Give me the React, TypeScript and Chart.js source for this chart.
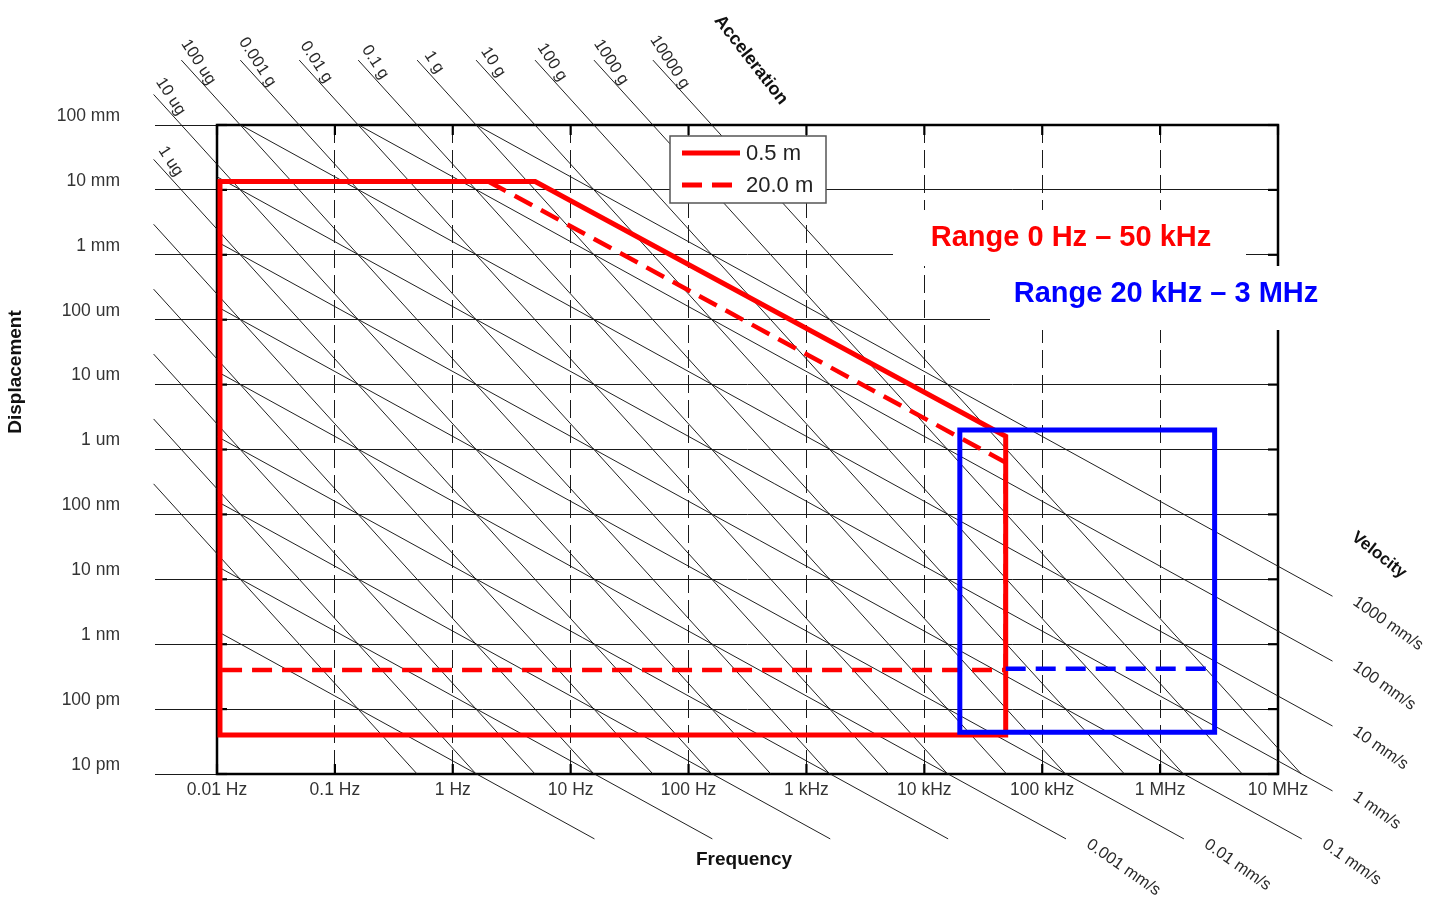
import React, { useEffect, useRef } from 'react';
import { Chart, registerables } from 'chart.js';

Chart.register(...registerables);

// ---- Axis ticks ----
const xTickValues = [1e-2, 1e-1, 1, 10, 100, 1e3, 1e4, 1e5, 1e6, 1e7];
const xTickLabels = ['0.01 Hz', '0.1 Hz', '1 Hz', '10 Hz', '100 Hz', '1 kHz', '10 kHz', '100 kHz', '1 MHz', '10 MHz'];
const yTickValues = [1e-11, 1e-10, 1e-9, 1e-8, 1e-7, 1e-6, 1e-5, 1e-4, 1e-3, 1e-2, 1e-1];
const yTickLabels = ['10 pm', '100 pm', '1 nm', '10 nm', '100 nm', '1 um', '10 um', '100 um', '1 mm', '10 mm', '100 mm'];

// ---- Constant-acceleration lines (in g) ----
const accelValuesG = [1e-11, 1e-10, 1e-9, 1e-8, 1e-7, 1e-6, 1e-5, 1e-4, 1e-3, 1e-2, 1e-1, 1, 10, 100, 1000, 10000];
const accelLabels = ['', '', '', '', '', '1 ug', '10 ug', '100 ug', '0.001 g', '0.01 g', '0.1 g', '1 g', '10 g', '100 g', '1000 g', '10000 g'];

// ---- Constant-velocity lines (in mm/s) ----
const velocityValuesMms = [1e-7, 1e-6, 1e-5, 1e-4, 1e-3, 1e-2, 0.1, 1, 10, 100, 1000];
const velocityLabels = ['', '', '', '', '0.001 mm/s', '0.01 mm/s', '0.1 mm/s', '1 mm/s', '10 mm/s', '100 mm/s', '1000 mm/s'];

// ---- Measurement envelopes: frequency (Hz) / displacement (m) ----
const range05mFreq = [0.0106, 0.0106, 5, 4.9e4, 4.9e4, 0.0106];
const range05mDisp = [4e-11, 0.0135, 0.0135, 1.6e-6, 4e-11, 4e-11];
const range20mFreq = [2, 4.9e4, 4.9e4, 0.0106];
const range20mDisp = [0.0135, 6.3e-7, 4e-10, 4e-10];
const hfSolidFreq = [2e4, 2e4, 2.9e6, 2.9e6, 2e4];
const hfSolidDisp = [4.4e-11, 2e-6, 2e-6, 4.4e-11, 4.4e-11];
const hfDashedFreq = [4.9e4, 2.9e6];
const hfDashedDisp = [4.2e-10, 4.2e-10];

// extents of the nomograph families (data space)
const ACCEL_F_MIN = 2.9e-3;
const ACCEL_D_MAX = 1;
const VEL_F_MAX = 2.9e7;
const VEL_D_MIN = 1e-12;
const G = 9.81;

const FONT = "'Liberation Sans', Arial, Helvetica, sans-serif";

const zip = (xs: number[], ys: number[]) => xs.map((x, i) => ({ x, y: ys[i] }));

export default function App() {
  const ref = useRef<HTMLCanvasElement | null>(null);

  useEffect(() => {
    const canvas = ref.current;
    if (!canvas) return;
    const TWO_PI = 2 * Math.PI;
    const fMinBox = xTickValues[0];
    const dMaxBox = yTickValues[yTickValues.length - 1];
    const dMinBox = yTickValues[0];

    const accelLine = (g: number) => {
      const a = g * G;
      const f0 = Math.max(ACCEL_F_MIN, Math.sqrt(a / ACCEL_D_MAX) / TWO_PI);
      const f1 = Math.sqrt(a / dMinBox) / TWO_PI;
      return [
        { x: f0, y: a / (TWO_PI * f0) ** 2 },
        { x: f1, y: a / (TWO_PI * f1) ** 2 },
      ];
    };
    const velLine = (mms: number) => {
      const v = mms / 1000;
      const f0 = Math.max(fMinBox, v / (TWO_PI * dMaxBox));
      const f1 = Math.min(VEL_F_MAX, v / (TWO_PI * VEL_D_MIN));
      return [
        { x: f0, y: v / (TWO_PI * f0) },
        { x: f1, y: v / (TWO_PI * f1) },
      ];
    };

    const diagStyle = {
      type: 'line' as const,
      borderColor: '#141414',
      borderWidth: 0.95,
      pointRadius: 0,
      clip: false as any,
      order: 10,
      fill: false,
    };

    const datasets: any[] = [];
    accelValuesG.forEach((g, i) => {
      datasets.push({ ...diagStyle, label: '', data: accelLine(g), kind: 'accel', lineLabel: accelLabels[i] });
    });
    velocityValuesMms.forEach((v, i) => {
      datasets.push({ ...diagStyle, label: '', data: velLine(v), kind: 'vel', lineLabel: velocityLabels[i] });
    });
    datasets.push({
      type: 'line', label: '0.5 m', data: zip(range05mFreq, range05mDisp), borderColor: '#ff0000',
      borderWidth: 5, pointRadius: 0, clip: false, order: 3, borderCapStyle: 'square', borderJoinStyle: 'miter',
      inLegend: true, fill: false,
    });
    datasets.push({
      type: 'line', label: '20.0 m', data: zip(range20mFreq, range20mDisp), borderColor: '#ff0000',
      borderWidth: 4.5, borderDash: [20, 10], pointRadius: 0, clip: false, order: 2, borderJoinStyle: 'miter',
      inLegend: true, fill: false,
    });
    datasets.push({
      type: 'line', label: '', data: zip(hfDashedFreq, hfDashedDisp), borderColor: '#0000ff',
      borderWidth: 4.5, borderDash: [20, 10], pointRadius: 0, clip: false, order: 1, fill: false,
    });
    datasets.push({
      type: 'line', label: '', data: zip(hfSolidFreq, hfSolidDisp), borderColor: '#0000ff',
      borderWidth: 5, pointRadius: 0, clip: false, order: 0, borderCapStyle: 'square', borderJoinStyle: 'miter',
      fill: false,
    });

    const framePlugin = {
      id: 'frame',
      beforeDatasetsDraw(chart: any) {
        const { ctx, chartArea: a, scales } = chart;
        ctx.save();
        ctx.strokeStyle = '#000';
        ctx.lineWidth = 2.2;
        const seg = (x1: number, y1: number, x2: number, y2: number) => {
          ctx.beginPath(); ctx.moveTo(x1, y1); ctx.lineTo(x2, y2); ctx.stroke();
        };
        xTickValues.forEach((v) => {
          const px = scales.x.getPixelForValue(v);
          seg(px, a.top, px, a.top + 10);
          seg(px, a.bottom, px, a.bottom - 10);
        });
        yTickValues.forEach((v) => {
          const py = scales.y.getPixelForValue(v);
          seg(a.left, py, a.left + 10, py);
          seg(a.right, py, a.right - 10, py);
        });
        ctx.lineWidth = 2.5;
        ctx.strokeRect(a.left, a.top, a.right - a.left, a.bottom - a.top);
        ctx.restore();
      },
      afterDatasetsDraw(chart: any) {
        const { ctx, chartArea: a } = chart;
        ctx.save();
        // diagonal labels
        ctx.fillStyle = '#2a2a2a';
        ctx.font = `16.5px ${FONT}`;
        chart.data.datasets.forEach((ds: any, i: number) => {
          if (!ds.lineLabel) return;
          const meta = chart.getDatasetMeta(i);
          if (ds.kind === 'accel') {
            const p = meta.data[0];
            ctx.save();
            ctx.translate(p.x + 17, p.y + 2);
            ctx.rotate((57 * Math.PI) / 180);
            ctx.textAlign = 'center';
            ctx.textBaseline = 'middle';
            ctx.fillText(ds.lineLabel, 0, 0);
            ctx.restore();
          } else {
            const p = meta.data[meta.data.length - 1];
            ctx.save();
            ctx.translate(p.x + 22, p.y + 4);
            ctx.rotate((35 * Math.PI) / 180);
            ctx.textAlign = 'left';
            ctx.textBaseline = 'middle';
            ctx.fillText(ds.lineLabel, 0, 0);
            ctx.restore();
          }
        });

        // family titles
        ctx.fillStyle = '#111';
        ctx.font = `bold 18px ${FONT}`;
        ctx.save();
        ctx.translate(a.left + 534, a.top - 65);
        ctx.rotate((52 * Math.PI) / 180);
        ctx.textAlign = 'center'; ctx.textBaseline = 'middle';
        ctx.fillText('Acceleration', 0, 0);
        ctx.restore();
        ctx.font = `bold 17px ${FONT}`;
        ctx.save();
        ctx.translate(a.right + 101, a.top + 430);
        ctx.rotate((38 * Math.PI) / 180);
        ctx.textAlign = 'center'; ctx.textBaseline = 'middle';
        ctx.fillText('Velocity', 0, 0);
        ctx.restore();

        // axis titles
        ctx.font = `bold 19px ${FONT}`;
        ctx.textAlign = 'center'; ctx.textBaseline = 'middle';
        ctx.fillText('Frequency', a.left + 527, a.bottom + 86);
        ctx.save();
        ctx.translate(a.left - 201, a.top + 247);
        ctx.rotate(-Math.PI / 2);
        ctx.fillText('Displacement', 0, 0);
        ctx.restore();

        // range annotations with white panels
        const panels = [
          { text: 'Range 0 Hz \u2013 50 kHz', color: '#ff0000', cx: a.left + 854, cy: a.top + 113, bx: a.left + 676, by: a.top + 85, bw: 353, bh: 56 },
          { text: 'Range 20 kHz \u2013 3 MHz', color: '#0000ff', cx: a.left + 949, cy: a.top + 169, bx: a.left + 773, by: a.top + 141, bw: 340, bh: 64 },
        ];
        panels.forEach((p) => {
          ctx.fillStyle = '#ffffff';
          ctx.fillRect(p.bx, p.by, p.bw, p.bh);
        });
        ctx.font = `bold 29px ${FONT}`;
        panels.forEach((p) => {
          ctx.fillStyle = p.color;
          ctx.fillText(p.text, p.cx, p.cy);
        });

        // legend
        const lx = a.left + 453;
        const ly = a.top + 11;
        ctx.fillStyle = '#ffffff';
        ctx.fillRect(lx, ly, 156, 67);
        ctx.strokeStyle = '#555';
        ctx.lineWidth = 1.5;
        ctx.strokeRect(lx, ly, 156, 67);
        const items = chart.data.datasets.filter((d: any) => d.inLegend);
        items.forEach((d: any, k: number) => {
          const yy = ly + 17 + k * 32;
          ctx.strokeStyle = d.borderColor;
          ctx.lineWidth = 5;
          ctx.setLineDash(d.borderDash || []);
          ctx.beginPath(); ctx.moveTo(lx + 12, yy); ctx.lineTo(lx + 70, yy); ctx.stroke();
          ctx.setLineDash([]);
          ctx.fillStyle = '#222';
          ctx.font = `22px ${FONT}`;
          ctx.textAlign = 'left'; ctx.textBaseline = 'middle';
          ctx.fillText(d.label, lx + 76, yy + 1);
        });
        ctx.restore();
      },
    };

    const tickFont = { family: FONT, size: 17.5 };

    const chart = new Chart(canvas, {
      type: 'line',
      data: { datasets },
      options: {
        animation: false,
        responsive: false,
        devicePixelRatio: 1,
        events: [],
        layout: { padding: { left: 0, top: 125, right: 164, bottom: 86 } },
        plugins: { legend: { display: false }, tooltip: { enabled: false }, title: { display: false } },
        scales: {
          x: {
            type: 'logarithmic',
            min: xTickValues[0],
            max: xTickValues[xTickValues.length - 1],
            afterBuildTicks: (s: any) => { s.ticks = xTickValues.map((v) => ({ value: v })); },
            afterFit: (s: any) => { s.height = 40; },
            ticks: {
              callback: (_v: any, i: number) => xTickLabels[i],
              autoSkip: false, maxRotation: 0, minRotation: 0, padding: 6,
              font: tickFont, color: '#333',
            },
            grid: { color: '#1a1a1a', lineWidth: 1, drawTicks: false },
            border: { display: false, dash: [18, 7] },
          },
          y: {
            type: 'logarithmic',
            min: yTickValues[0],
            max: yTickValues[yTickValues.length - 1],
            afterBuildTicks: (s: any) => { s.ticks = yTickValues.map((v) => ({ value: v })); },
            afterFit: (s: any) => { s.width = 217; },
            ticks: {
              callback: (_v: any, i: number) => yTickLabels[i],
              autoSkip: false, padding: 35, labelOffset: -9,
              font: tickFont, color: '#333',
            },
            grid: { color: '#1a1a1a', lineWidth: 1, drawTicks: true, tickLength: 62, tickColor: '#1a1a1a', tickWidth: 1 },
            border: { display: false },
          },
        },
      } as any,
      plugins: [framePlugin],
    });

    return () => chart.destroy();
  }, []);

  return (
    <div style={{ position: 'absolute', left: 0, top: 0, width: 1442, height: 900, background: '#fff' }}>
      <canvas ref={ref} width={1442} height={900} style={{ display: 'block' }} />
    </div>
  );
}
